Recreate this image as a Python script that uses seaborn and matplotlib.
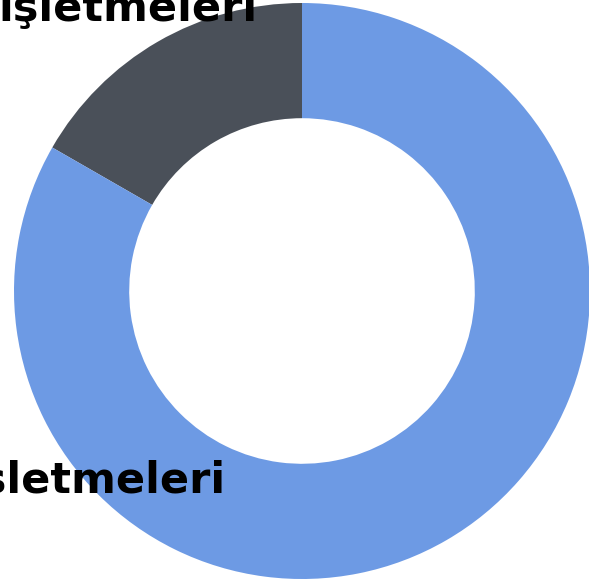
import matplotlib
matplotlib.use("Agg")
import matplotlib.pyplot as plt
import seaborn as sns

segments = ["Diğer işletmeleri", "Kadın işletmeleri"]
shares = [16.7, 83.3]
label_text = ["işletmeleri", "işletmeleri"]
colors = ["#4a5059", "#6d9ae4"]

sns.set_theme(style="white")
plt.rcParams["font.family"] = ["DejaVu Sans"]

fig = plt.figure(figsize=(5.89, 5.86), dpi=100)
ax = fig.add_axes([0, 0, 1, 1])
ax.pie(shares, colors=colors, startangle=90, counterclock=True,
       wedgeprops=dict(width=0.4, edgecolor="none"))
ax.set_xlim(-1.0486, 0.9965)
ax.set_ylim(-1.0243, 1.0104)
ax.set_aspect("equal")
ax.axis("off")

# labels sit outside the donut, partly cut by the figure edge
ax.text(-0.153, 0.937, label_text[0], ha="right", va="baseline",
        fontsize=31, fontweight="bold", color="black")
ax.text(-0.267, -0.701, label_text[1], ha="right", va="baseline",
        fontsize=31, fontweight="bold", color="black")

fig.savefig("out.png", dpi=100)
